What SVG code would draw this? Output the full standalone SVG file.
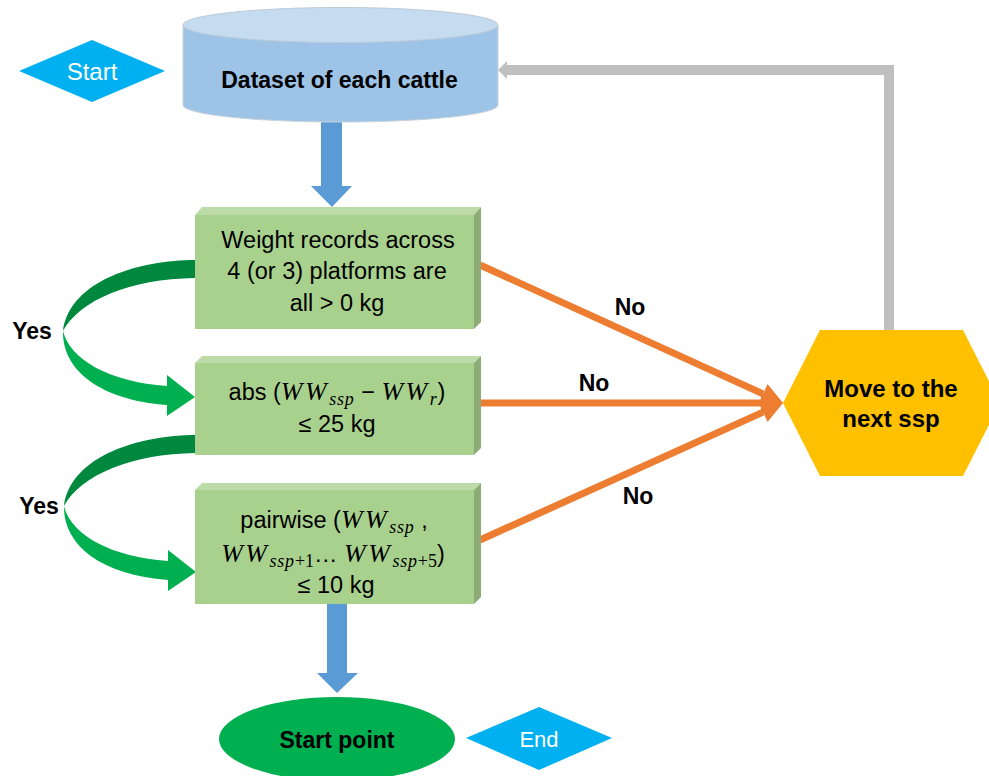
<svg xmlns="http://www.w3.org/2000/svg" width="989" height="776" viewBox="0 0 989 776">
<defs>
<style>
.t{font-family:"Liberation Sans",Arial,sans-serif;font-size:23.5px;fill:#000}
.b{font-weight:bold}
.l{font-size:23px}
.w{fill:#fff}
.m{font-family:"Liberation Serif","Times New Roman",serif;font-style:italic;font-size:26px;letter-spacing:2.5px}
.s{font-family:"Liberation Serif","Times New Roman",serif;font-style:italic;font-size:18px;letter-spacing:0.8px}
.su{font-family:"Liberation Serif","Times New Roman",serif;font-size:18px}
.front{fill:#A9D18E}
.top{fill:#BCDBA8}
.side{fill:#8CAB76}
.or{stroke:#ED7D31;stroke-width:7;fill:none}
</style>
<marker id="oh" markerUnits="userSpaceOnUse" markerWidth="24" markerHeight="24" refX="0" refY="12" orient="auto" viewBox="0 0 24 24">
<path d="M0,1 L22,12 L0,23 Z" fill="#ED7D31"/>
</marker>
</defs>
<rect width="989" height="776" fill="#fff"/>

<g id="connectors">
<polygon points="321,122 342,122 342,186 352,186 332,207 311,186 321,186" fill="#5B9BD5"/>
<polygon points="327,604 347,604 347,673 358,673 337,693 317,673 327,673" fill="#5B9BD5"/>
<polyline points="889,330 889,70 506,70" fill="none" stroke="#BFBFBF" stroke-width="10"/>
<polygon points="507,61 498,70 507,79" fill="#BFBFBF"/>
<line class="or" x1="480" y1="265" x2="763" y2="393.9" marker-end="url(#oh)"/>
<line class="or" x1="480" y1="403" x2="761" y2="403" marker-end="url(#oh)"/>
<line class="or" x1="480" y1="540" x2="763" y2="412.1" marker-end="url(#oh)"/>
<g id="yes1">
<path d="M195,260 C140,260 70,280 63,331 C80,300 130,279 195,278 Z" fill="#00893E"/>
<path d="M63,331 C70,360 110,382 167,386 L167,375 L195,397 L167,416 L167,405 C100,400 62,370 63,331 Z" fill="#00B050"/>
</g>
<g id="yes2" transform="translate(1,175)">
<path d="M195,260 C140,260 70,280 63,331 C80,300 130,279 195,278 Z" fill="#00893E"/>
<path d="M63,331 C70,360 110,382 167,386 L167,375 L195,397 L167,416 L167,405 C100,400 62,370 63,331 Z" fill="#00B050"/>
</g>
<text class="t b l" x="32" y="339" text-anchor="middle">Yes</text>
<text class="t b l" x="39" y="514" text-anchor="middle">Yes</text>
<text class="t b l" x="630" y="315" text-anchor="middle">No</text>
<text class="t b l" x="594" y="391" text-anchor="middle">No</text>
<text class="t b l" x="638" y="504" text-anchor="middle">No</text>
</g>

<g id="start">
<polygon points="19,71 92,40 165,71 92,102" fill="#00B0F0"/>
<text class="t w" x="92" y="80" text-anchor="middle" style="font-size:24px">Start</text>
</g>

<g id="dataset">
<path d="M183,25 L183,105 A157.5,17 0 0 0 498,105 L498,25 Z" fill="#9DC3E6" stroke="#C9D3DC" stroke-width="1"/>
<ellipse cx="340.5" cy="25" rx="157.5" ry="17.5" fill="#C5DCF0" stroke="#BCCAD8" stroke-width="1"/>
<text class="t b l" x="339.5" y="88" text-anchor="middle">Dataset of each cattle</text>
</g>

<g id="box1">
<polygon class="top" points="195,215 202,207 481,207 474,215"/>
<polygon class="side" points="474,215 481,207 481,322 474,329"/>
<rect class="front" x="195" y="215" width="279" height="114"/>
<text class="t" x="338" y="248" text-anchor="middle">Weight records across</text>
<text class="t" x="337" y="279" text-anchor="middle">4 (or 3) platforms are</text>
<text class="t" x="337" y="311" text-anchor="middle">all &gt; 0 kg</text>
</g>

<g id="box2">
<polygon class="top" points="195,363 202,356 481,356 474,363"/>
<polygon class="side" points="474,363 481,356 481,448 474,455"/>
<rect class="front" x="195" y="363" width="279" height="92"/>
<text class="t" x="337" y="400" text-anchor="middle">abs (<tspan class="m">WW</tspan><tspan class="s" dy="5">ssp</tspan><tspan dy="-5"> − </tspan><tspan class="m">WW</tspan><tspan class="s" dy="5">r</tspan><tspan dy="-5">)</tspan></text>
<text class="t" x="337" y="432" text-anchor="middle">≤ 25 kg</text>
</g>

<g id="box3">
<polygon class="top" points="195,490 202,483 481,483 474,490"/>
<polygon class="side" points="474,490 481,483 481,597 474,604"/>
<rect class="front" x="195" y="490" width="279" height="114"/>
<text class="t" x="334" y="528" text-anchor="middle">pairwise (<tspan class="m">WW</tspan><tspan class="s" dy="5">ssp</tspan><tspan dy="-5"> ,</tspan></text>
<text class="t" x="333" y="562" text-anchor="middle"><tspan class="m">WW</tspan><tspan class="s" dy="5">ssp</tspan><tspan class="su">+1</tspan><tspan dy="-5">… </tspan><tspan class="m">WW</tspan><tspan class="s" dy="5">ssp</tspan><tspan class="su">+5</tspan><tspan dy="-5">)</tspan></text>
<text class="t" x="336" y="593" text-anchor="middle">≤ 10 kg</text>
</g>

<g id="move">
<polygon points="783,403 820,330 963,330 1000,403 963,476 820,476" fill="#FFC000"/>
<text class="t b" x="891" y="397" text-anchor="middle" style="font-size:24px">Move to the</text>
<text class="t b" x="891" y="427" text-anchor="middle" style="font-size:24px">next ssp</text>
</g>

<g id="startpoint">
<ellipse cx="337" cy="739" rx="118" ry="42" fill="#00B050"/>
<text class="t b l" x="337" y="748" text-anchor="middle">Start point</text>
</g>

<g id="end">
<polygon points="466,738 539,707 612,738 539,770" fill="#00B0F0"/>
<text class="t w" x="539" y="747" text-anchor="middle" style="font-size:22px">End</text>
</g>
</svg>
